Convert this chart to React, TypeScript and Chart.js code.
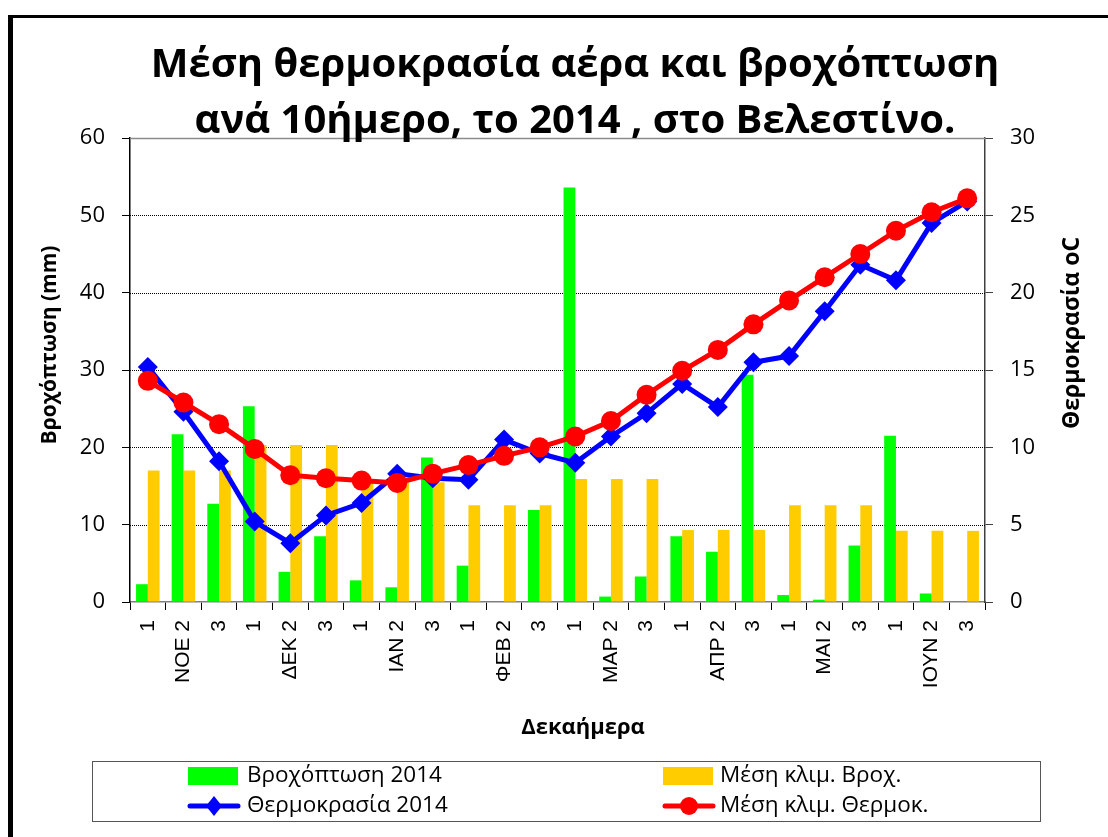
import React, { useEffect, useRef } from "react";
import { Chart, registerables } from "chart.js";

Chart.register(...registerables);

const categories: string[] = [
  "1", "ΝΟΕ 2", "3",
  "1", "ΔΕΚ 2", "3",
  "1", "ΙΑΝ 2", "3",
  "1", "ΦΕΒ 2", "3",
  "1", "ΜΑΡ 2", "3",
  "1", "ΑΠΡ 2", "3",
  "1", "ΜΑΙ 2", "3",
  "1", "ΙΟΥΝ 2", "3",
];

const rain2014: number[] = [
  2.3, 21.7, 12.7, 25.3, 3.9, 8.5, 2.8, 1.9, 18.7, 4.7, 0, 11.9,
  53.6, 0.7, 3.3, 8.5, 6.5, 29.4, 0.9, 0.3, 7.3, 21.5, 1.1, 0,
];

const rainClim: number[] = [
  17.0, 17.0, 17.0, 20.3, 20.3, 20.3, 15.5, 15.5, 15.5, 12.5, 12.5, 12.5,
  15.9, 15.9, 15.9, 9.3, 9.3, 9.3, 12.5, 12.5, 12.5, 9.2, 9.2, 9.2,
];

const temp2014: number[] = [
  15.2, 12.3, 9.1, 5.2, 3.8, 5.6, 6.4, 8.3, 8.0, 7.9, 10.5, 9.6,
  9.0, 10.7, 12.2, 14.1, 12.6, 15.5, 15.9, 18.8, 21.8, 20.8, 24.5, 25.9,
];

const tempClim: number[] = [
  14.3, 12.9, 11.5, 9.9, 8.2, 8.0, 7.85, 7.7, 8.3, 8.85, 9.45, 10.0,
  10.7, 11.7, 13.4, 14.95, 16.3, 17.95, 19.5, 21.0, 22.5, 24.0, 25.2, 26.1,
];

const titleLines: string[] = [
  "Μέση θερμοκρασία αέρα και βροχόπτωση",
  "ανά 10ήμερο, το 2014 , στο Βελεστίνο.",
];
const leftAxisTitle = "Βροχόπτωση (mm)";
const rightAxisTitle = "Θερμοκρασία oC";
const xAxisTitle = "Δεκαήμερα";
const seriesNames: string[] = [
  "Βροχόπτωση 2014",
  "Μέση κλιμ. Βροχ.",
  "Θερμοκρασία 2014",
  "Μέση κλιμ. Θερμοκ.",
];

const GREEN = "#00FF00";
const YELLOW = "#FFCC00";
const BLUE = "#0000FF";
const RED = "#FF0000";

const decorPlugin = {
  id: "decor",
  beforeDraw(chart: any) {
    const ctx = chart.ctx as CanvasRenderingContext2D;
    ctx.save();
    ctx.fillStyle = "#ffffff";
    ctx.fillRect(0, 0, chart.width, chart.height);
    ctx.fillStyle = "#000000";
    ctx.fillRect(8, 15, chart.width - 8, 3);
    ctx.fillRect(8, 15, 5, chart.height - 15);
    ctx.restore();
  },
  beforeDatasetsDraw(chart: any) {
    const ctx = chart.ctx as CanvasRenderingContext2D;
    const area = chart.chartArea;
    const y = chart.scales.y;
    ctx.save();
    y.ticks.forEach((t: any) => {
      const py = Math.round(y.getPixelForValue(t.value)) + 0.5;
      if (t.value <= 0) return;
      ctx.beginPath();
      if (t.value >= 60) {
        ctx.setLineDash([]);
        ctx.strokeStyle = "#8c8c8c";
        ctx.lineWidth = 1.5;
      } else {
        ctx.setLineDash([1, 1]);
        ctx.strokeStyle = "#000000";
        ctx.lineWidth = 1;
      }
      ctx.moveTo(area.left, py);
      ctx.lineTo(area.right, py);
      ctx.stroke();
    });
    ctx.restore();
  },
  afterDraw(chart: any) {
    const ctx = chart.ctx as CanvasRenderingContext2D;
    ctx.save();
    ctx.fillStyle = "#000000";
    // Title
    ctx.font = "bold 40px 'Open Sans'";
    ctx.textAlign = "center";
    ctx.textBaseline = "alphabetic";
    ctx.fillText(titleLines[0], 575, 77);
    ctx.fillText(titleLines[1], 575, 133);

    // Axis titles
    ctx.textBaseline = "middle";
    ctx.font = "bold 21px 'Open Sans'";
    ctx.save();
    ctx.translate(50, 345);
    ctx.rotate(-Math.PI / 2);
    ctx.fillText(leftAxisTitle, 0, 0);
    ctx.restore();
    ctx.font = "bold 23px 'Open Sans'";
    ctx.save();
    ctx.translate(1072, 333);
    ctx.rotate(-Math.PI / 2);
    ctx.fillText(rightAxisTitle, 0, 0);
    ctx.restore();
    ctx.font = "bold 22px 'Open Sans'";
    ctx.fillText(xAxisTitle, 583, 728);

    // Legend
    ctx.strokeStyle = "#555555";
    ctx.lineWidth = 1;
    ctx.strokeRect(92.5, 761.5, 948, 60);
    ctx.font = "22.5px 'Open Sans'";
    ctx.textAlign = "left";
    ctx.textBaseline = "middle";
    const col = [188, 663];
    const row = [776, 806];
    ctx.fillStyle = GREEN;
    ctx.fillRect(col[0], 767, 50, 18);
    ctx.fillStyle = YELLOW;
    ctx.fillRect(col[1], 767, 50, 18);
    const drawLineSym = (x: number, y: number, color: string, kind: string) => {
      ctx.strokeStyle = color;
      ctx.lineWidth = 5;
      ctx.lineCap = "round";
      ctx.beginPath();
      ctx.moveTo(x + 2, y);
      ctx.lineTo(x + 50, y);
      ctx.stroke();
      ctx.fillStyle = color;
      ctx.beginPath();
      const cx = x + 26;
      if (kind === "diamond") {
        ctx.moveTo(cx, y - 10);
        ctx.lineTo(cx + 8, y);
        ctx.lineTo(cx, y + 10);
        ctx.lineTo(cx - 8, y);
        ctx.closePath();
      } else {
        ctx.arc(cx, y, 9, 0, Math.PI * 2);
      }
      ctx.fill();
    };
    drawLineSym(col[0], row[1], BLUE, "diamond");
    drawLineSym(col[1], row[1], RED, "circle");
    ctx.fillStyle = "#000000";
    ctx.fillText(seriesNames[0], col[0] + 59, row[0]);
    ctx.fillText(seriesNames[1], col[1] + 57, row[0]);
    ctx.fillText(seriesNames[2], col[0] + 59, row[1]);
    ctx.fillText(seriesNames[3], col[1] + 57, row[1]);
    ctx.restore();
  },
};

export default function App() {
  const canvasRef = useRef<HTMLCanvasElement | null>(null);

  useEffect(() => {
    const canvas = canvasRef.current;
    if (!canvas) return;
    const tickFont = { family: "'Open Sans'", size: 22 };
    const chart = new Chart(canvas, {
      type: "bar",
      data: {
        labels: categories,
        datasets: [
          {
            type: "line",
            label: seriesNames[3],
            data: tempClim,
            yAxisID: "y1",
            borderColor: RED,
            backgroundColor: RED,
            borderWidth: 5,
            pointStyle: "circle",
            pointRadius: 10,
            pointBorderWidth: 0,
            pointBackgroundColor: RED,
            tension: 0,
            order: 0,
          },
          {
            type: "line",
            label: seriesNames[2],
            data: temp2014,
            yAxisID: "y1",
            borderColor: BLUE,
            backgroundColor: BLUE,
            borderWidth: 5,
            pointStyle: "rectRot",
            pointRadius: 10,
            pointBorderWidth: 0,
            pointBackgroundColor: BLUE,
            tension: 0,
            order: 1,
          },
          {
            type: "bar",
            label: seriesNames[0],
            data: rain2014,
            yAxisID: "y",
            backgroundColor: GREEN,
            categoryPercentage: 0.66,
            barPercentage: 1.0,
            order: 2,
          },
          {
            type: "bar",
            label: seriesNames[1],
            data: rainClim,
            yAxisID: "y",
            backgroundColor: YELLOW,
            categoryPercentage: 0.66,
            barPercentage: 1.0,
            order: 3,
          },
        ] as any,
      },
      options: {
        responsive: false,
        animation: false,
        devicePixelRatio: 1,
        layout: { padding: { top: 138, left: 0, right: 0, bottom: 0 } },
        plugins: {
          legend: { display: false },
          title: { display: false },
          tooltip: { enabled: false },
        },
        scales: {
          x: {
            type: "category",
            offset: true,
            grid: {
              offset: true,
              drawOnChartArea: false,
              drawTicks: true,
              tickLength: 8,
              tickColor: "#000000",
            },
            border: { color: "#808080", width: 1.5 },
            ticks: {
              autoSkip: false,
              minRotation: 90,
              maxRotation: 90,
              padding: 10,
              color: "#000000",
              font: { family: "'Liberation Sans'", size: 21 },
            },
            afterFit(scale: any) {
              scale.height = 235;
            },
          },
          y: {
            position: "left",
            min: 0,
            max: 60,
            ticks: { stepSize: 10, padding: 17, color: "#000000", font: tickFont },
            grid: { drawOnChartArea: false, tickLength: 8, tickColor: "#000000" },
            border: { color: "#000000", width: 1.5 },
            afterFit(scale: any) {
              scale.width = 130;
            },
          },
          y1: {
            position: "right",
            min: 0,
            max: 30,
            ticks: { stepSize: 5, padding: 17, color: "#000000", font: tickFont },
            grid: { drawOnChartArea: false, tickLength: 8, tickColor: "#404040" },
            border: { color: "#404040", width: 1.5 },
            afterFit(scale: any) {
              scale.width = 123;
            },
          },
        },
      } as any,
      plugins: [decorPlugin],
    });
    return () => chart.destroy();
  }, []);

  return (
    <div style={{ position: "fixed", left: 0, top: 0, width: 1108, height: 837, background: "#fff" }}>
      <canvas ref={canvasRef} width={1108} height={837} style={{ display: "block" }} />
    </div>
  );
}
